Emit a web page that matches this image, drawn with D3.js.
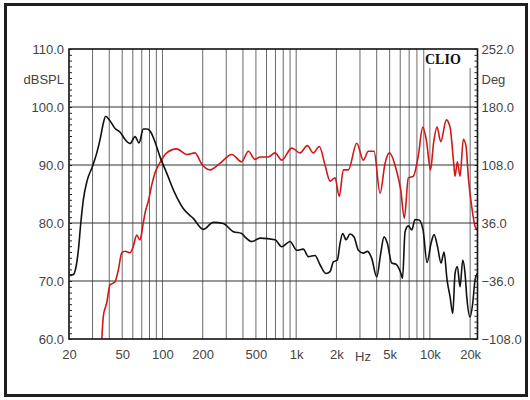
<!DOCTYPE html>
<html><head><meta charset="utf-8">
<script src="https://cdn.jsdelivr.net/npm/d3@7"></script>
<style>body{margin:0;background:#fff} svg{display:block}</style>
</head><body>
<svg id="c" width="530" height="400"></svg>
<script>
// ---- data ----
const freqTicks = [20, 50, 100, 200, 500, 1000, 2000, 5000, 10000, 20000];
const freqTickLabels = ["20", "50", "100", "200", "500", "1k", "2k", "5k", "10k", "20k"];
const gridFreqs = [30, 40, 50, 60, 70, 80, 90, 100, 200, 300, 400, 500, 600, 700, 800, 900, 1000,
  2000, 3000, 4000, 5000, 6000, 7000, 8000, 9000, 10000, 20000];
const splTicks = [60, 70, 80, 90, 100, 110];
const splGrid = [70, 80, 90, 100];
const phaseTicks = [-108, -36, 36, 108, 180, 252];

const splFreq = [20, 21.5, 22.6, 23.5, 24.5, 25.6, 27.4, 29.9, 32.2, 34.5, 36.1, 37.6, 40, 44.2, 48.1, 52.5,
  57.2, 62.4, 66.8, 71.9, 77, 81.7, 87.9, 95.9, 107.6, 124, 143, 170, 202, 240, 285, 339, 391, 414, 465, 537,
  695, 780, 900, 1010, 1131, 1233, 1384, 1508, 1672, 1792, 1896, 2031, 2128, 2229, 2360, 2528, 2709, 2917,
  3179, 3406, 3673, 4003, 4290, 4540, 4806, 5183, 5583, 6032, 6245, 6520, 6900, 7317, 7745, 8297, 8888,
  9522, 10204, 10740, 11408, 12113, 12760, 13436, 14150, 14824, 15422, 16046, 16810, 17610, 18318, 18862,
  19968, 20914, 21760, 22640];
const splValues = [71.0, 71.1, 72.5, 75.3, 80.0, 84.0, 87.4, 89.7, 92.0, 94.9, 97.2, 98.4, 97.8, 96.3, 95.7, 94.4,
  93.7, 94.9, 93.8, 96.2, 96.2, 95.7, 94.0, 91.4, 88.6, 85.1, 82.5, 80.8, 78.9, 80.1, 79.9, 78.5, 78.2, 77.6, 76.8, 77.4,
  77.1, 75.9, 76.8, 75.3, 75.5, 74.2, 74.4, 72.8, 71.3, 71.6, 73.3, 73.6, 76.5, 78.2, 77.1, 78.1, 77.6, 75.3,
  74.8, 75.1, 73.9, 70.7, 74.8, 77.6, 76.5, 73.1, 72.9, 71.5, 70.5, 78.5, 79.5, 78.8, 80.6, 80.5, 78.8,
  73.2, 76.5, 78.0, 75.9, 73.1, 75.0, 70.2, 67.3, 64.4, 71.3, 72.5, 69.0, 73.6, 71.3, 67.3,
  63.8, 66.2, 70.2, 71.3];

const phaseFreq = [35.1, 36.1, 38.3, 40.5, 44.2, 46.8, 49.6, 52.5, 57.2, 60.5, 64.2, 67.9, 71.2, 74, 78.4, 83.1,
  87.9, 95.9, 107.6, 128, 152, 175, 197, 227, 269, 330, 391, 439, 492, 537, 619, 695, 780, 926, 1069, 1212,
  1344, 1490, 1643, 1792, 1952, 2102, 2253, 2455, 2836, 3179, 3463, 3822, 4240, 4620, 4973, 5649, 6053, 6441,
  6900, 7522, 8198, 8842, 9408, 10112, 10650, 11310, 12054, 13276, 14150, 15030, 15422, 16046, 16810, 17790,
  18640, 19400, 20560, 21760, 22640];
const phaseValues = [-112, -80, -63, -41, -37, -22, -1, 1, -1, 7, 21, 15, 32, 48, 63, 83,
  98, 111, 123, 128, 121, 123, 109, 102, 110, 121, 112, 125, 115, 118, 118, 123, 114, 129, 123, 132,
  123, 131, 108, 88, 92, 69, 102, 102, 135, 114, 125, 125, 73, 110, 123, 100, 77, 42,
  92, 94, 120, 155, 139, 102, 135, 155, 137, 164, 155, 112, 94, 112, 94, 140,
  131, 92, 56, 32, 27];

// ---- layout ----
const svg = d3.select("#c");
const L = 69, R = 477.5, T = 49, B = 339;
const x = d3.scaleLog().domain([20, 22700]).range([L, R]);
const y = d3.scaleLinear().domain([60, 110]).range([B, T]);
const yP = d3.scaleLinear().domain([-108, 252]).range([B, T]);
const font = "'Liberation Sans', Arial, sans-serif";
const labelColor = "#444";

svg.append("rect").attr("width", 530).attr("height", 400).attr("fill", "#fff");
svg.append("rect").attr("x", L).attr("y", T).attr("width", R - L).attr("height", B - T).attr("fill", "#fff");

// vertical grid
svg.append("g").selectAll("line").data(gridFreqs).join("line")
  .attr("x1", d => x(d)).attr("x2", d => x(d)).attr("y1", T).attr("y2", B)
  .attr("stroke", "#6a6a6a").attr("stroke-width", 1);
// horizontal grid
svg.append("g").selectAll("line").data(splGrid).join("line")
  .attr("x1", L).attr("x2", R).attr("y1", d => y(d)).attr("y2", d => y(d))
  .attr("stroke", "#333").attr("stroke-width", 1.2);

// CLIO box
svg.append("rect").attr("x", 426).attr("y", T).attr("width", R - 426).attr("height", 19).attr("fill", "#fff");

// clip
svg.append("clipPath").attr("id", "pc").append("rect").attr("x", L).attr("y", T).attr("width", R - L).attr("height", B - T);

const splLine = d3.line().x((d, i) => x(splFreq[i])).y(d => y(d)).curve(d3.curveMonotoneX);
const phLine = d3.line().x((d, i) => x(phaseFreq[i])).y(d => yP(d)).curve(d3.curveMonotoneX);

const g = svg.append("g").attr("clip-path", "url(#pc)");
g.append("path").attr("d", phLine(phaseValues)).attr("fill", "none").attr("stroke", "#d01818").attr("stroke-width", 1.6);
g.append("path").attr("d", splLine(splValues)).attr("fill", "none").attr("stroke", "#111").attr("stroke-width", 1.6);

// border
svg.append("rect").attr("x", L).attr("y", T).attr("width", R - L).attr("height", B - T)
  .attr("fill", "none").attr("stroke", "#111").attr("stroke-width", 1.6);

// minor ticks (inside)
const leftMinor = d3.axisRight(y).tickValues(d3.range(60, 110.01, 1)).tickSize(3).tickFormat("");
svg.append("g").attr("transform", `translate(${L},0)`).call(leftMinor)
  .call(a => a.select(".domain").remove()).selectAll("line").attr("stroke", "#222");
const rightMinor = d3.axisLeft(yP).tickValues(d3.range(-108, 252.01, 7.2)).tickSize(3).tickFormat("");
svg.append("g").attr("transform", `translate(${R},0)`).call(rightMinor)
  .call(a => a.select(".domain").remove()).selectAll("line").attr("stroke", "#222");

// left labels
const leftAx = d3.axisLeft(y).tickValues(splTicks).tickSize(0).tickPadding(5).tickFormat(d3.format(".1f"));
svg.append("g").attr("transform", `translate(${L},0)`).call(leftAx)
  .call(a => a.select(".domain").remove())
  .selectAll("text").attr("font-family", font).attr("font-size", 13).attr("fill", labelColor);
// right labels
const rightAx = d3.axisRight(yP).tickValues(phaseTicks).tickSize(0).tickPadding(4).tickFormat(d3.format(".1f"));
svg.append("g").attr("transform", `translate(${R},0)`).call(rightAx)
  .call(a => a.select(".domain").remove())
  .selectAll("text").attr("font-family", font).attr("font-size", 13).attr("fill", labelColor);
// bottom labels
const botAx = d3.axisBottom(x).tickValues(freqTicks).tickSize(0).tickPadding(11)
  .tickFormat((d, i) => freqTickLabels[i]);
svg.append("g").attr("transform", `translate(0,${B})`).call(botAx)
  .call(a => a.select(".domain").remove())
  .selectAll("text").attr("font-family", font).attr("font-size", 13).attr("fill", labelColor);

svg.append("text").attr("x", x(3000) + 3).attr("y", B + 22).attr("text-anchor", "middle")
  .attr("font-family", font).attr("font-size", 13).attr("fill", labelColor).text("Hz");
svg.append("text").attr("x", L - 5).attr("y", 84).attr("text-anchor", "end")
  .attr("font-family", font).attr("font-size", 13).attr("fill", labelColor).text("dBSPL");
svg.append("text").attr("x", R + 4).attr("y", 84).attr("text-anchor", "start")
  .attr("font-family", font).attr("font-size", 13).attr("fill", labelColor).text("Deg");
svg.append("text").attr("x", 425).attr("y", 64)
  .attr("font-family", "'Liberation Serif', 'Times New Roman', serif").attr("font-weight", "bold")
  .attr("font-size", 14).attr("fill", "#111").text("CLIO");

// outer frame
svg.append("rect").attr("x", 5.5).attr("y", 4.5).attr("width", 521).attr("height", 391)
  .attr("fill", "none").attr("stroke", "#1e1e1e").attr("stroke-width", 3);
</script>
</body></html>
